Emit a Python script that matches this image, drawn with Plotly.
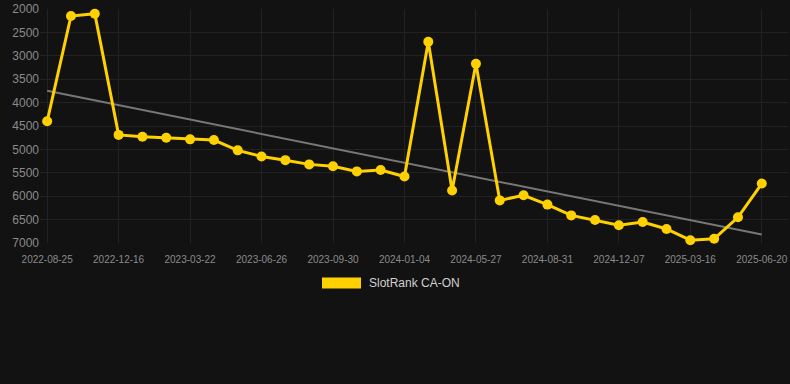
import numpy as np
import plotly.graph_objects as go

dates = [
    "2022-08-25", "2022-10-02", "2022-11-09", "2022-12-16", "2023-01-18", "2023-02-19",
    "2023-03-22", "2023-04-24", "2023-05-25", "2023-06-26", "2023-07-28", "2023-08-29",
    "2023-09-30", "2023-11-01", "2023-12-03", "2024-01-04", "2024-02-20", "2024-04-08",
    "2024-05-27", "2024-06-28", "2024-07-30", "2024-08-31", "2024-10-02", "2024-11-04",
    "2024-12-07", "2025-01-09", "2025-02-11", "2025-03-16", "2025-04-17", "2025-05-19",
    "2025-06-20",
]
ranks = [
    4400, 2150, 2100, 4690, 4730, 4750, 4785, 4800, 5020, 5150, 5230, 5320,
    5360, 5470, 5440, 5580, 2700, 5880, 3170, 6090, 5980, 6180, 6410, 6510,
    6620, 6550, 6700, 6940, 6910, 6450, 5730,
]
tick_labels = [
    "2022-08-25", "2022-12-16", "2023-03-22", "2023-06-26", "2023-09-30", "2024-01-04",
    "2024-05-27", "2024-08-31", "2024-12-07", "2025-03-16", "2025-06-20",
]
y_ticks = [2000, 2500, 3000, 3500, 4000, 4500, 5000, 5500, 6000, 6500, 7000]
series_name = "SlotRank CA-ON"

idx = np.arange(len(ranks))
slope, intercept = np.polyfit(idx, ranks, 1)
trend = slope * idx + intercept

fig = go.Figure()
fig.add_trace(go.Scatter(
    x=dates, y=trend, mode="lines",
    line=dict(color="#777777", width=2), showlegend=False, hoverinfo="skip",
))
fig.add_trace(go.Scatter(
    x=dates, y=ranks, mode="lines+markers", name=series_name,
    line=dict(color="#FFD100", width=3),
    marker=dict(color="#FFD100", size=10),
    showlegend=False, cliponaxis=False,
))

fig.update_layout(
    width=790, height=384,
    margin=dict(l=40, r=2, t=6, b=141),
    paper_bgcolor="#121212", plot_bgcolor="#121212",
    font=dict(family="Liberation Sans, Arial, sans-serif", color="#8a8a8a"),
    showlegend=False,
    xaxis=dict(
        type="category", categoryorder="array", categoryarray=dates,
        range=[-0.3, len(dates) - 1 + 1.1],
        tickmode="array", tickvals=tick_labels, ticktext=tick_labels,
        tickfont=dict(size=10, color="#8a8a8a"),
        showgrid=True, gridcolor="#222222", gridwidth=1,
        zeroline=False, showline=False, ticks="", ticklabelstandoff=9,
    ),
    yaxis=dict(
        range=[7000, 2000], tickvals=y_ticks,
        tickfont=dict(size=12, color="#8a8a8a"),
        showgrid=True, gridcolor="#222222", gridwidth=1,
        zeroline=False, showline=False, ticks="",
        ticklabeloverflow="allow",
    ),
    shapes=[dict(
        type="rect", xref="paper", yref="paper",
        x0=(322 - 40) / 748, x1=(361 - 40) / 748,
        y0=(243 - 289) / 237, y1=(243 - 278) / 237,
        fillcolor="#FFD100", line=dict(width=0),
    )],
    annotations=[dict(
        text=series_name, xref="paper", yref="paper",
        x=(367 - 40) / 748, y=(243 - 284) / 237,
        xanchor="left", yanchor="middle", showarrow=False,
        font=dict(size=12, color="#d0d0d0"),
    )],
)

fig.write_html(
    "out.html",
    config={"displayModeBar": False},
    post_script="document.body.style.margin='0';",
)
